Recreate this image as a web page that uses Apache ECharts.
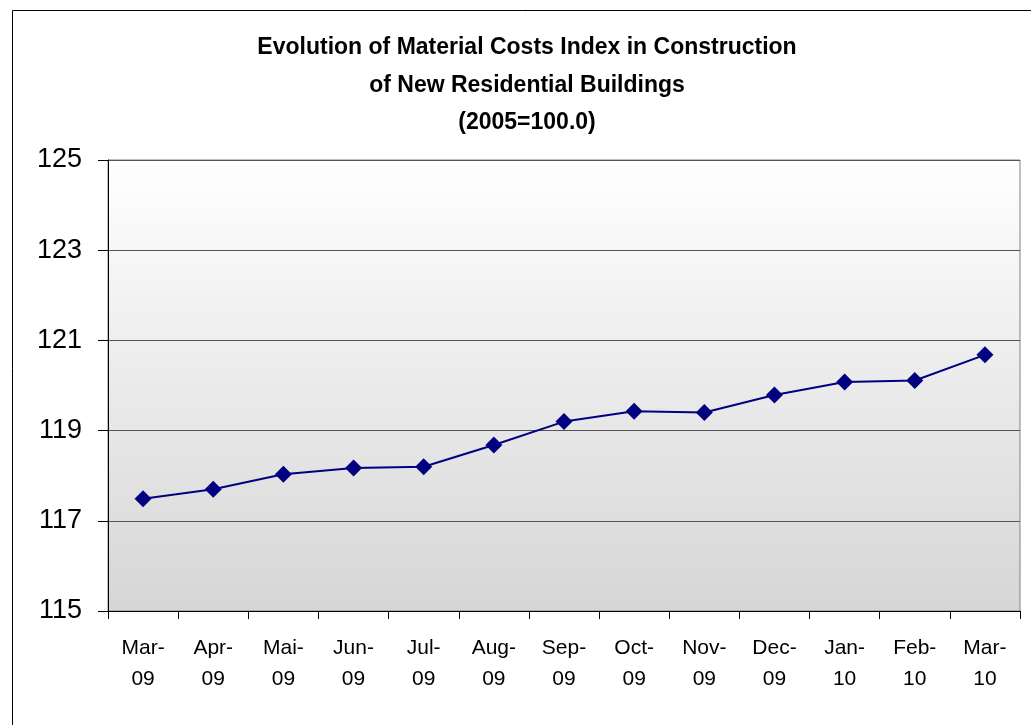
<!DOCTYPE html>
<html>
<head>
<meta charset="utf-8">
<script src="https://cdn.jsdelivr.net/npm/echarts@6/dist/echarts.min.js"></script>
<style>
  html, body { margin: 0; padding: 0; background: #fff; }
  #chart { width: 1031px; height: 725px; }
</style>
</head>
<body>
<div id="chart"></div>
<script>
// monthly labels and index values (2005=100.0)
var months = ['Mar-\n09', 'Apr-\n09', 'Mai-\n09', 'Jun-\n09', 'Jul-\n09', 'Aug-\n09', 'Sep-\n09',
              'Oct-\n09', 'Nov-\n09', 'Dec-\n09', 'Jan-\n10', 'Feb-\n10', 'Mar-\n10'];
var costIndex = [117.49, 117.70, 118.03, 118.17, 118.20, 118.68, 119.20, 119.43, 119.40, 119.79, 120.08, 120.11, 120.68];
var yTicks = { min: 115, max: 125, step: 2 };

var myChart = echarts.init(document.getElementById('chart'));

myChart.setOption({
    animation: false,
    backgroundColor: '#fff',
    title: {
        text: 'Evolution of Material Costs Index in Construction\nof New Residential Buildings\n(2005=100.0)',
        left: 522,
        textAlign: 'center',
        top: 24,
        textStyle: {
            fontFamily: 'Liberation Sans, Arial, sans-serif',
            fontSize: 23,
            fontWeight: 'bold',
            color: '#000',
            lineHeight: 37.5
        }
    },
    graphic: [{
        type: 'rect',
        shape: { x: 12.5, y: 10.5, width: 1040, height: 740 },
        style: { fill: 'none', stroke: '#000', lineWidth: 1 },
        silent: true
    }],
    grid: {
        left: 108,
        right: 11,
        top: 160,
        bottom: 114,
        show: true,
        borderColor: '#808080',
        borderWidth: 1,
        backgroundColor: {
            type: 'linear', x: 0, y: 0, x2: 0, y2: 1,
            colorStops: [
                { offset: 0, color: '#ffffff' },
                { offset: 1, color: '#d6d6d6' }
            ]
        }
    },
    xAxis: {
        type: 'category',
        data: months,
        boundaryGap: true,
        axisLine: { lineStyle: { color: '#000', width: 1 } },
        axisTick: { show: true, length: 8, interval: 0, lineStyle: { color: '#000' } },
        axisLabel: {
            interval: 0,
            margin: 22,
            fontFamily: 'Liberation Sans, Arial, sans-serif',
            fontSize: 21,
            lineHeight: 31,
            color: '#000'
        },
        splitLine: { show: false }
    },
    yAxis: {
        type: 'value',
        min: yTicks.min,
        max: yTicks.max,
        interval: yTicks.step,
        axisLine: { show: true, lineStyle: { color: '#000', width: 1 } },
        axisTick: { show: true, length: 10, lineStyle: { color: '#000' } },
        axisLabel: {
            margin: 26,
            fontFamily: 'Liberation Sans, Arial, sans-serif',
            fontSize: 27,
            color: '#000'
        },
        splitLine: { show: true, lineStyle: { color: '#555', width: 1 } }
    },
    series: [{
        name: 'Index',
        type: 'line',
        data: costIndex,
        symbol: 'diamond',
        symbolSize: 17,
        itemStyle: { color: '#000080' },
        lineStyle: { color: '#000080', width: 2 }
    }]
});
</script>
</body>
</html>
